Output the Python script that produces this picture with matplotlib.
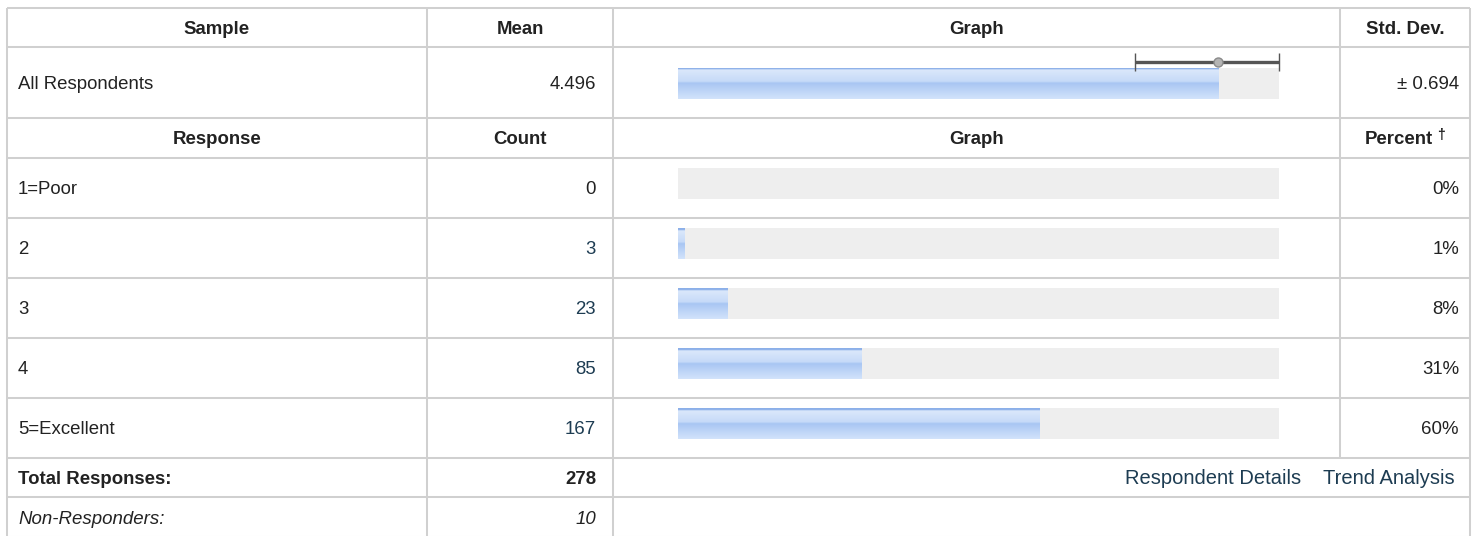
import numpy as np
import matplotlib
matplotlib.use("Agg")
import matplotlib.pyplot as plt

OUTPUT_PLOT_FILE = "out.png"

# data
sample_label = "All Respondents"
mean_value = 4.496
std_dev = 0.694
scale_max = 5
responses = ["1=Poor", "2", "3", "4", "5=Excellent"]
counts = [0, 3, 23, 85, 167]
total_responses = 278
non_responders = 10

# layout (pixels)
W, H = 1477, 536
COLS = [7, 427, 613, 1340, 1470]
ROWS = [8, 47, 118, 158, 218, 278, 338, 398, 458, 497, 537]
TRACK_X0, TRACK_X1 = 678, 1279
BAR_H = 31
FONT = "Liberation Sans"
FS = 13.4
TXT = "#222222"
LINK = "#1d3c52"
GRID = "#d0d0d0"


def bar_gradient():
    # vertical colour ramp of the blue bars (top line, light upper half, darker lower band)
    stops = [0.0, 0.06, 0.07, 0.45, 0.5, 0.55, 1.0]
    cols = ["#8cb0e9", "#8cb0e9", "#dbe8fb", "#c6daf8", "#a7c5f3", "#adc9f4", "#d2e3fb"]
    rgb = np.array([matplotlib.colors.to_rgb(c) for c in cols])
    t = np.linspace(0, 1, BAR_H * 2)
    grad = np.stack([np.interp(t, stops, rgb[:, k]) for k in range(3)], axis=-1)
    return grad[:, None, :]


def px_axes(fig, x0, y0, x1, y1):
    ax = fig.add_axes([x0 / W, 1 - y1 / H, (x1 - x0) / W, (y1 - y0) / H])
    ax.set_xticks([])
    ax.set_yticks([])
    for s in ax.spines.values():
        s.set_visible(False)
    return ax


def track_axes(fig, top, xmax):
    ax = px_axes(fig, TRACK_X0, top, TRACK_X1, top + BAR_H)
    ax.set_facecolor("#eeeeee")
    ax.set_xlim(0, xmax)
    ax.set_ylim(0, 1)
    return ax


def draw_table(ax):
    lw = 1.45
    for y in ROWS:
        ax.plot([COLS[0], COLS[-1]], [y, y], color=GRID, lw=lw, solid_capstyle="butt")
    for i in range(len(ROWS) - 1):
        xs = COLS if i < 8 else [COLS[0], COLS[1], COLS[2], COLS[4]]
        for x in xs:
            ax.plot([x, x], [ROWS[i], ROWS[i + 1]], color=GRID, lw=lw, solid_capstyle="butt")


def txt(ax, x, y, s, ha="left", **kw):
    kw.setdefault("color", TXT)
    ax.text(x, y, s, ha=ha, va="baseline", fontsize=kw.pop("fs", FS), family=FONT, **kw)


def main():
    plt.rcParams["font.family"] = [FONT, "DejaVu Sans"]
    fig = plt.figure(figsize=(W / 100, H / 100), dpi=100)
    ax = fig.add_axes([0, 0, 1, 1])
    ax.set_xlim(0, W)
    ax.set_ylim(H, 0)
    ax.axis("off")
    draw_table(ax)

    mid = [(ROWS[i] + ROWS[i + 1]) / 2 + 6.5 for i in range(len(ROWS) - 1)]
    ccol = [(COLS[i] + COLS[i + 1]) / 2 for i in range(len(COLS) - 1)]
    left = COLS[0] + 11
    right_num = COLS[2] - 17
    right_pct = COLS[4] - 11

    # header rows
    for c, s in zip(ccol, ["Sample", "Mean", "Graph", "Std. Dev."]):
        txt(ax, c, mid[0], s, ha="center", weight="bold")
    for c, s in zip(ccol[:3], ["Response", "Count", "Graph"]):
        txt(ax, c, mid[2], s, ha="center", weight="bold")
    txt(ax, 1433, mid[2], "Percent", ha="right", weight="bold")
    txt(ax, 1437, mid[2] - 5, "†", fs=10, weight="bold")

    # mean row
    txt(ax, left, mid[1], sample_label)
    txt(ax, right_num, mid[1], f"{mean_value:.3f}", ha="right")
    txt(ax, right_pct, mid[1], f"± {std_dev:.3f}", ha="right")

    grad = bar_gradient()
    mtop = ROWS[1] + 21
    bax = track_axes(fig, mtop, scale_max)
    bax.imshow(grad, extent=(0, mean_value, 0, 1), aspect="auto", interpolation="bilinear")
    bax.set_xlim(0, scale_max)

    eax = px_axes(fig, TRACK_X0, mtop - 12, TRACK_X1, mtop)
    eax.patch.set_alpha(0)
    eax.set_xlim(0, scale_max)
    eax.set_ylim(0, 1)
    hi = min(std_dev, scale_max - mean_value)
    eax.errorbar([mean_value], [0.5], xerr=[[std_dev], [hi]], fmt="o", color="#555555",
                 ecolor="#555555", elinewidth=2.4, capsize=6.5, capthick=2.6,
                 markersize=6.5, markerfacecolor="#b4b4b4", markeredgecolor="#8a8a8a",
                 markeredgewidth=1, clip_on=False)

    # response rows
    for i, (lab, n) in enumerate(zip(responses, counts)):
        r = 3 + i
        pct = 100 * n / total_responses
        txt(ax, left, mid[r], lab)
        txt(ax, right_num, mid[r], str(n), ha="right", color=LINK if n > 0 else TXT)
        txt(ax, right_pct, mid[r], f"{pct:.0f}%", ha="right")
        tax = track_axes(fig, ROWS[r] + 10, 100)
        if n > 0:
            tax.imshow(grad, extent=(0, pct, 0, 1), aspect="auto", interpolation="bilinear")
        tax.set_xlim(0, 100)

    # totals
    txt(ax, left, mid[8], "Total Responses:", weight="bold")
    txt(ax, right_num, mid[8], str(total_responses), ha="right", weight="bold")
    txt(ax, 1455, mid[8], "Trend Analysis", ha="right", color=LINK, fs=14.5)
    txt(ax, 1301, mid[8], "Respondent Details", ha="right", color=LINK, fs=14.5)
    txt(ax, left, mid[9], "Non-Responders:", style="italic")
    txt(ax, right_num, mid[9], str(non_responders), ha="right", style="italic")

    fig.savefig(OUTPUT_PLOT_FILE, dpi=100)


if __name__ == "__main__":
    main()
